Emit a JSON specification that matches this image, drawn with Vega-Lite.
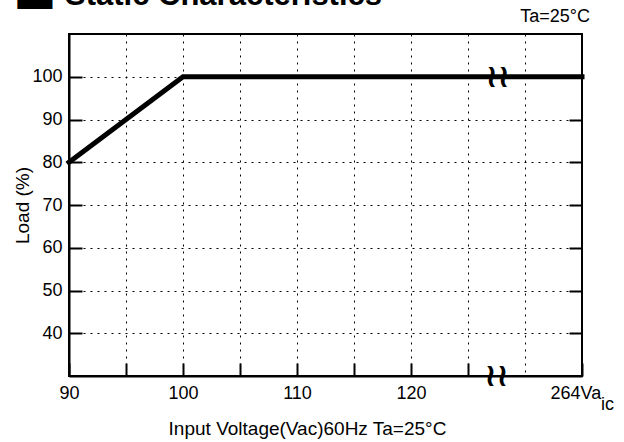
{
  "$schema": "https://vega.github.io/schema/vega-lite/v6.json",
  "width": 513,
  "height": 342,
  "autosize": "none",
  "padding": {"left": 69, "top": 34, "right": 42, "bottom": 66},
  "background": "white",
  "config": {"view": {"stroke": "black", "strokeWidth": 2}, "font": "Liberation Sans"},
  "datasets": {
    "curve": [{"v": 90, "load": 80}, {"v": 100, "load": 100}, {"v": 135, "load": 100}],
    "breaks": [{"v": 127.6, "load": 100}, {"v": 127.5, "load": 30}],
    "note": [{"v": 135, "load": 110, "label": "Ta=25°C"}],
    "unit": [{"v": 135, "load": 30, "label": "ic"}],
    "square": [{"v": 90, "load": 110, "label": "■"}],
    "heading": [{"v": 90, "load": 110, "label": "Static Characteristics"}]
  },
  "layer": [
    {
      "data": {"name": "curve"},
      "mark": {"type": "line", "color": "black", "strokeWidth": 5, "strokeCap": "square"},
      "encoding": {
        "x": {
          "field": "v", "type": "quantitative",
          "scale": {"domain": [90, 135], "nice": false, "zero": false},
          "axis": {
            "values": [90, 95, 100, 105, 110, 115, 120, 125, 130, 135],
            "labelExpr": "datum.value == 135 ? '264Va' : (indexof([90, 100, 110, 120], datum.value) >= 0 ? datum.label : '')",
            "labelAlign": {"condition": {"test": "datum.value == 135", "value": "left"}, "value": "center"},
            "labelOffset": {"condition": {"test": "datum.value == 135", "value": -32}, "value": 0},
            "labelFontSize": 18, "labelColor": "black", "labelPadding": 21,
            "grid": true, "gridColor": "black", "gridDash": [2, 5], "gridWidth": 1,
            "tickSize": -13, "tickColor": "black", "tickWidth": 2,
            "tickOpacity": {"condition": {"test": "datum.value == 130", "value": 0}, "value": 1},
            "domainColor": "black", "domainWidth": 2,
            "title": "Input Voltage(Vac)60Hz Ta=25°C",
            "titleFontSize": 19, "titleFontWeight": "normal", "titleColor": "black",
            "titleX": 238, "titleY": 52, "titleBaseline": "middle", "titleAlign": "center"
          }
        },
        "y": {
          "field": "load", "type": "quantitative",
          "scale": {"domain": [30, 110], "nice": false, "zero": false},
          "axis": {
            "values": [40, 50, 60, 70, 80, 90, 100],
            "labelFontSize": 18, "labelColor": "black", "labelPadding": 20,
            "grid": true, "gridColor": "black", "gridDash": [2, 5], "gridWidth": 1,
            "tickSize": -13, "tickColor": "black", "tickWidth": 2,
            "domainColor": "black", "domainWidth": 2,
            "title": "Load (%)",
            "titleFontSize": 19, "titleFontWeight": "normal", "titleColor": "black",
            "titleX": -47, "titleY": 171, "titleBaseline": "middle", "titleAlign": "center"
          }
        }
      }
    },
    {
      "data": {"name": "breaks"},
      "mark": {"type": "text", "text": "≀≀", "font": "DejaVu Sans", "fontSize": 32, "fontWeight": "bold", "color": "black", "baseline": "middle", "align": "center"},
      "encoding": {
        "x": {"field": "v", "type": "quantitative"},
        "y": {
          "field": "load", "type": "quantitative",
          "axis": {"orient": "right", "values": [40, 50, 60, 70, 80, 90, 100], "labels": false, "grid": false, "domain": false, "tickSize": -13, "tickColor": "black", "tickWidth": 2, "title": null}
        }
      }
    },
    {
      "data": {"name": "note"},
      "mark": {"type": "text", "fontSize": 18, "color": "black", "align": "right", "baseline": "middle", "dx": 8, "dy": -17},
      "encoding": {
        "x": {"field": "v", "type": "quantitative"},
        "y": {"field": "load", "type": "quantitative", "axis": null},
        "text": {"field": "label"}
      }
    },
    {
      "data": {"name": "unit"},
      "mark": {"type": "text", "fontSize": 18, "color": "black", "align": "left", "baseline": "middle", "dx": 19, "dy": 29},
      "encoding": {
        "x": {"field": "v", "type": "quantitative"},
        "y": {"field": "load", "type": "quantitative", "axis": null},
        "text": {"field": "label"}
      }
    },
    {
      "data": {"name": "square"},
      "mark": {"type": "text", "font": "DejaVu Sans", "fontSize": 46, "color": "black", "align": "center", "baseline": "alphabetic", "dx": -34, "dy": -31},
      "encoding": {
        "x": {"field": "v", "type": "quantitative"},
        "y": {"field": "load", "type": "quantitative", "axis": null},
        "text": {"field": "label"}
      }
    },
    {
      "data": {"name": "heading"},
      "mark": {"type": "text", "font": "Liberation Sans", "fontSize": 31, "fontWeight": "bold", "color": "black", "align": "left", "baseline": "alphabetic", "dx": -4, "dy": -29.5},
      "encoding": {
        "x": {"field": "v", "type": "quantitative"},
        "y": {"field": "load", "type": "quantitative", "axis": null},
        "text": {"field": "label"}
      }
    }
  ],
  "resolve": {"axis": {"y": "independent"}}
}
